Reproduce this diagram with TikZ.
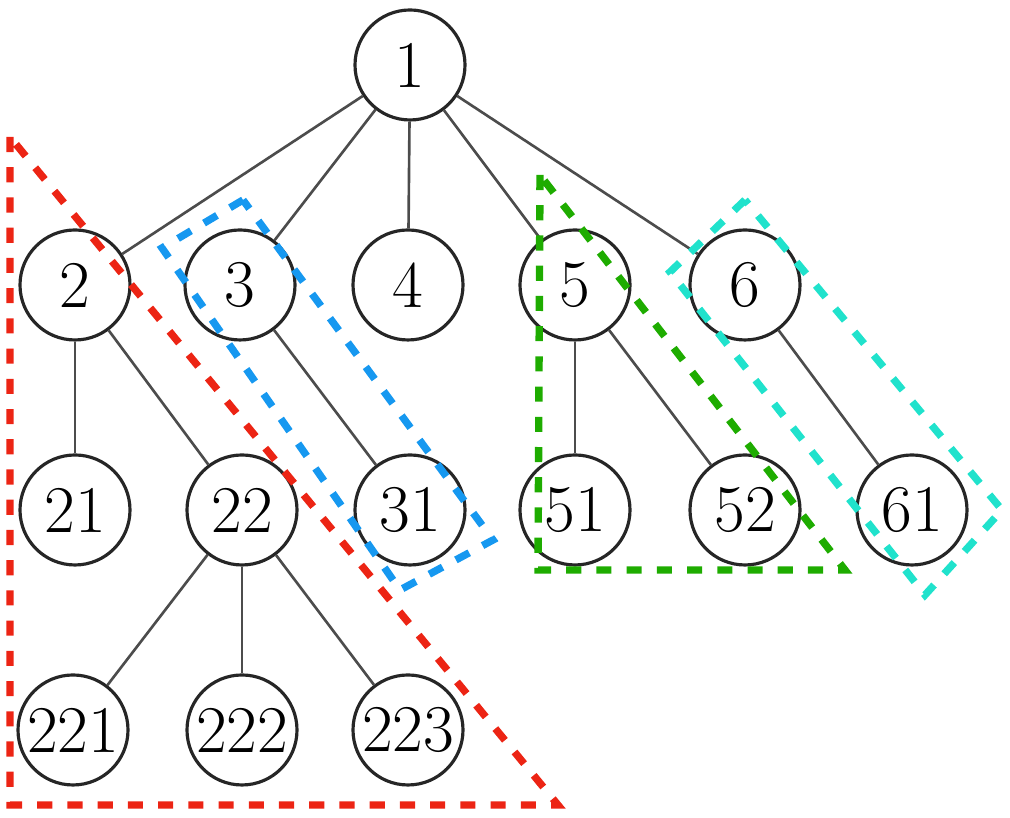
\documentclass[tikz,border=0pt]{standalone}
\usepackage{amsmath}
\usepackage{tikz}

\definecolor{grpred}{RGB}{236,36,20}
\definecolor{grpblue}{RGB}{22,152,240}
\definecolor{grpgreen}{RGB}{30,172,0}
\definecolor{grpcyan}{RGB}{32,226,204}

\tikzset{
    vert/.style={circle, draw=black!85, line width=0.9pt, minimum size=1.1cm, inner sep=0pt, font=\fontsize{19}{22}\selectfont},
    edge/.style={line width=0.75pt, black!70},
    group/.style={line width=2.1pt, dash pattern=on 4.3pt off 4.3pt}
}

\begin{document}
\begin{tikzpicture}
            \useasboundingbox (0,0) rectangle (10.10,8.18);
            % tree
            \node[vert] (n1) at (4.10,7.53) {1};
            \node[vert] (n2) at (0.75,5.33) {2};
            \node[vert] (n3) at (2.40,5.33) {3};
            \node[vert] (n4) at (4.08,5.33) {4};
            \node[vert] (n5) at (5.75,5.33) {5};
            \node[vert] (n6) at (7.45,5.33) {6};
            \node[vert] (n21) at (0.75,3.08) {21};
            \node[vert] (n22) at (2.42,3.08) {22};
            \node[vert] (n31) at (4.10,3.08) {31};
            \node[vert] (n51) at (5.75,3.08) {51};
            \node[vert] (n52) at (7.45,3.08) {52};
            \node[vert] (n61) at (9.12,3.08) {61};
            \node[vert] (n221) at (0.73,0.88) {221};
            \node[vert] (n222) at (2.42,0.88) {222};
            \node[vert] (n223) at (4.08,0.88) {223};
            \foreach \c in {2,3,4,5,6}
                \draw[edge] (n1) -- (n\c);
            \foreach \p/\c in {2/21, 2/22, 3/31, 5/51, 5/52, 6/61, 22/221, 22/222, 22/223}
                \draw[edge] (n\p) -- (n\c);
            % groups
            \draw[group, grpred] (0.10,6.81) -- (0.10,0.13) -- (5.58,0.13) -- cycle;
            \draw[group, grpblue] (2.43,6.18) -- (1.62,5.70) -- (4.00,2.28) -- (4.93,2.78) -- cycle;
            \draw[group, grpgreen] (5.40,6.43) -- (5.38,2.48) -- (8.45,2.48) -- cycle;
            \draw[group, grpcyan] (7.45,6.18) -- (6.70,5.46) -- (9.25,2.23) -- (10.02,3.08) -- cycle;
        \end{tikzpicture}
\end{document}
